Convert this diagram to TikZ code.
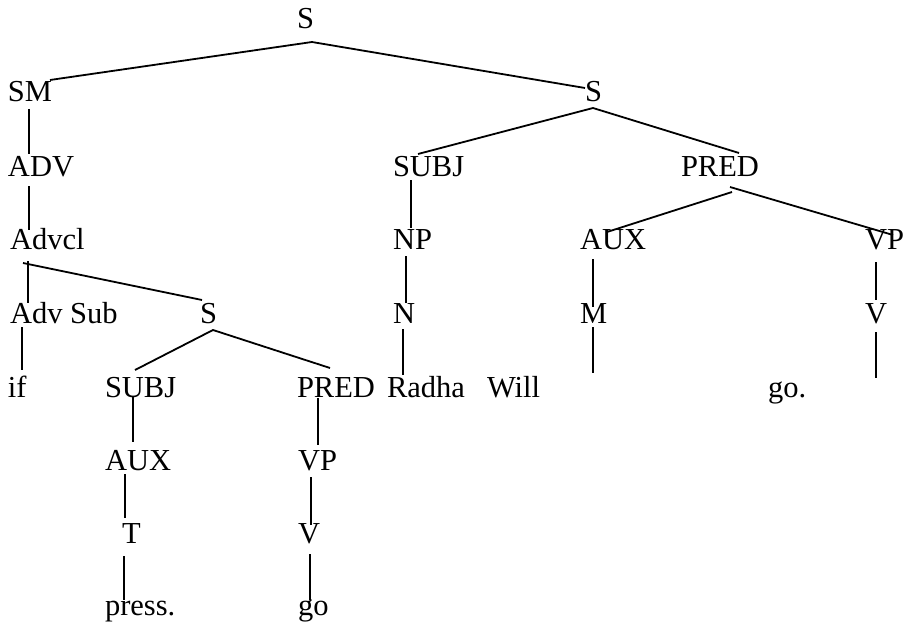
\documentclass[tikz,border=0pt]{standalone}
\usepackage{fontspec}
\setmainfont{Liberation Serif}
\begin{document}
\begin{tikzpicture}[x=1pt,y=-1pt,
  lab/.style={anchor=base west,inner sep=0pt,outer sep=0pt,font=\fontsize{30.5}{36}\selectfont},
  edge/.style={line width=1.8pt,black}]
\useasboundingbox (0,0) rectangle (914,626);
% labels
\node[lab] (s0) at (297,29) {S};
\node[lab] (sm) at (8,102) {SM};
\node[lab] (s1) at (585,102) {S};
\node[lab] (adv) at (8,176) {ADV};
\node[lab] (subj1) at (393,176) {SUBJ};
\node[lab] (pred1) at (681,176) {PRED};
\node[lab] (advcl) at (10,249) {Advcl};
\node[lab] (np) at (393,249) {NP};
\node[lab] (aux1) at (580,249) {AUX};
\node[lab] (vp1) at (865,249) {VP};
\node[lab] (advsub) at (10,323) {Adv Sub};
\node[lab] (s2) at (200,323) {S};
\node[lab] (n) at (393,323) {N};
\node[lab] (m) at (580,323) {M};
\node[lab] (v1) at (865,323) {V};
\node[lab] (if) at (8,397) {if};
\node[lab] (subj2) at (105,397) {SUBJ};
\node[lab] (pred2) at (297,397) {PRED};
\node[lab] (radha) at (387,397) {Radha};
\node[lab] (will) at (487,397) {Will};
\node[lab] (go1) at (768,397) {go.};
\node[lab] (aux2) at (105,470) {AUX};
\node[lab] (vp2) at (298,470) {VP};
\node[lab] (t) at (122,543) {T};
\node[lab] (v2) at (298,543) {V};
\node[lab] (press) at (105,615) {press.};
\node[lab] (go2) at (298,615) {go};
% connector ends
\coordinate (s0b) at (312,42);
\coordinate (smt) at (50,80);
\coordinate (s1t) at (585,88);
\coordinate (smb) at (29,109);
\coordinate (advt) at (29,154);
\coordinate (advb) at (29,186);
\coordinate (advclt) at (29,230);
\coordinate (advclb) at (28,261);
\coordinate (advclbl) at (23,263);
\coordinate (advsubt) at (28,303);
\coordinate (s2t) at (202,300);
\coordinate (advsubb) at (22,327);
\coordinate (ift) at (22,370);
\coordinate (s2b) at (213,330);
\coordinate (subj2t) at (135,370);
\coordinate (pred2t) at (330,368);
\coordinate (subj2b) at (133,397);
\coordinate (aux2t) at (133,442);
\coordinate (pred2b) at (318,398);
\coordinate (vp2t) at (318,445);
\coordinate (aux2b) at (125,474);
\coordinate (tt) at (125,518);
\coordinate (tb) at (124,556);
\coordinate (presst) at (124,600);
\coordinate (vp2b) at (311,477);
\coordinate (v2t) at (311,525);
\coordinate (v2b) at (310,554);
\coordinate (go2t) at (310,600);
\coordinate (s1b) at (593,108);
\coordinate (subj1t) at (418,154);
\coordinate (pred1t) at (739,153);
\coordinate (subj1b) at (411,180);
\coordinate (npt) at (411,228);
\coordinate (npb) at (406,256);
\coordinate (nt) at (406,303);
\coordinate (nb) at (403,329);
\coordinate (radhat) at (403,375);
\coordinate (pred1bl) at (732,192);
\coordinate (pred1br) at (730,187);
\coordinate (aux1t) at (607,232);
\coordinate (vp1t) at (893,235);
\coordinate (aux1b) at (593,259);
\coordinate (mt) at (593,307);
\coordinate (mb) at (593,327);
\coordinate (mend) at (593,373);
\coordinate (vp1b) at (876,262);
\coordinate (v1t) at (876,300);
\coordinate (v1b) at (876,332);
\coordinate (v1end) at (876,378);
% connectors
\draw[edge] (smt) -- (s0b) -- (s1t);
\draw[edge] (smb) -- (advt);
\draw[edge] (advb) -- (advclt);
\draw[edge] (advclb) -- (advsubt);
\draw[edge] (advclbl) -- (s2t);
\draw[edge] (advsubb) -- (ift);
\draw[edge] (subj2t) -- (s2b) -- (pred2t);
\draw[edge] (subj2b) -- (aux2t);
\draw[edge] (pred2b) -- (vp2t);
\draw[edge] (aux2b) -- (tt);
\draw[edge] (tb) -- (presst);
\draw[edge] (vp2b) -- (v2t);
\draw[edge] (v2b) -- (go2t);
\draw[edge] (subj1t) -- (s1b) -- (pred1t);
\draw[edge] (subj1b) -- (npt);
\draw[edge] (npb) -- (nt);
\draw[edge] (nb) -- (radhat);
\draw[edge] (pred1bl) -- (aux1t);
\draw[edge] (pred1br) -- (vp1t);
\draw[edge] (aux1b) -- (mt);
\draw[edge] (mb) -- (mend);
\draw[edge] (vp1b) -- (v1t);
\draw[edge] (v1b) -- (v1end);
\end{tikzpicture}
\end{document}
